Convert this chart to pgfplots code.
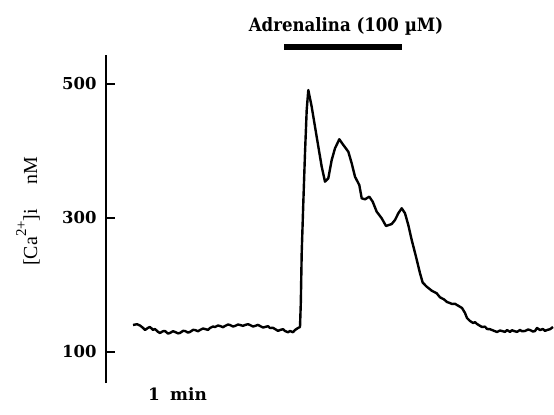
\documentclass[border=0pt]{standalone}
\usepackage{fontspec}
\setmainfont{Liberation Serif}
\newfontfamily\dvs{DejaVu Serif}
\newfontfamily\dvsc{DejaVu Serif Condensed}
\usepackage{pgfplots}
\pgfplotsset{compat=1.18}
\begin{document}
\begin{tikzpicture}
\useasboundingbox (0,0) rectangle (554bp,415bp);
\begin{axis}[
  at={(106bp,32bp)}, anchor=south west,
  scale only axis, width=448bp, height=328bp,
  xmin=106, xmax=554, ymin=53.7, ymax=543.3,
  axis x line=none,
  axis y line=left,
  axis line style={-, line width=2bp, black},
  ytick={100,300,500},
  tick align=inside,
  major tick length=9bp,
  major tick style={line width=1.6bp, black},
  /pgf/number format/assume math mode=true,
  yticklabel style={font=\dvs\bfseries\fontsize{16.5}{19}\selectfont, xshift=-6bp},
  ylabel={\fontsize{20}{24}\selectfont [Ca\raisebox{0.55em}{\fontsize{15}{15}\selectfont 2+}]i\hspace{1.2em}nM},
  every axis y label/.style={at={(axis description cs:-0.154,0.523)}, rotate=90, anchor=base},
  clip=false,
]
\addplot[black, line width=2.4bp, line join=round] coordinates {
(133,140.3)(137,141.5)(140,139.5)(143,136)(145,132.8)(148,136)(150,137.3)(153,133)(155,134.3)(158,130)(160,128.4)(163,131)(165,131.3)(168,127.5)(170,128.4)
(173,131)(175,129.9)(178,127.8)(180,128.4)(183,131.5)(185,131.3)(188,129)(190,129.9)(193,133)(195,132.8)(198,131)(200,132.8)(203,135)(205,134.3)(208,133)(210,135.8)
(213,138)(215,137.3)(218,139.5)(220,138.8)(223,137)(225,138.8)(228,141)(230,140.3)(233,138)(235,138.8)(238,141)(240,140.3)(243,139)(245,140.3)(248,141.5)(250,140.3)
(253,138)(255,138.8)(258,140.5)(260,138.8)(263,136.5)(265,137.3)(268,138.5)(270,135.8)(273,136)(275,134.3)(278,131.5)(280,132.8)(283,134)(285,131.3)(288,129.5)(290,131.3)
(293,129.5)(295,132.8)(298,135.8)(300,137.3)
(300.8,173.1)(301.7,247.8)(303.3,322.4)(305,397.0)(306.7,461.2)(308.3,491.0)
(311.7,466)(316.7,421)(321.7,376.6)(325,354.2)(328.3,359.2)(331.7,386.6)(335,404)
(339.3,417.5)(343.3,409)(348.3,399)(351.7,381.6)(355,361.6)(359.3,349.2)(361.7,329.4)
(365,327.9)(369.3,331.8)(372.7,324.3)(376.7,309.4)(381.7,299.5)(386,288.1)(391.7,291)
(395,297)(398.3,307)(401.7,314.5)(405,307)(408.3,289.5)(411.7,267.2)(416,242.2)
(420,217.5)(422.7,203.5)(426.7,197.5)(431.7,191.5)(436.7,187.6)(440,181.6)
(444,178.5)(447,174.6)(450,173)(452,171.6)(455,172)(457,170.1)(460,167.5)(462,165.7)(465,158.2)(467,150.7)(470,146.3)(473,143.3)
(475,144.5)(477,141.8)(480,139)(482,137.3)(485,137.8)(487,134.3)(490,134)(492,132.8)(495,131)(497,129.9)(500,132)(502,131.3)(505,130)(507,132.8)(510,129.9)
(512,132.5)(514,131.3)(517,130)(520,132.8)(522,131)(525,131.3)(528,133.5)(530,132.8)(533,130.5)(535,131.3)(537,135.8)(540,132.8)(543,134.3)
(545,131.5)(547,132.8)(550,134)(553,137.3)
};
\addplot[black, line width=6.5bp, line cap=butt] coordinates {(284,555.2)(402,555.2)};
\node[anchor=base, font=\dvsc\bfseries\fontsize{18.5}{22}\selectfont] at (axis cs:346,579.1) {Adrenalina (100 µM)};
\node[anchor=base west, font=\dvs\bfseries\fontsize{17}{20}\selectfont, inner sep=0pt] at (axis cs:148,26.9) {1\hspace{0.6em}min};
\end{axis}
\end{tikzpicture}
\end{document}
